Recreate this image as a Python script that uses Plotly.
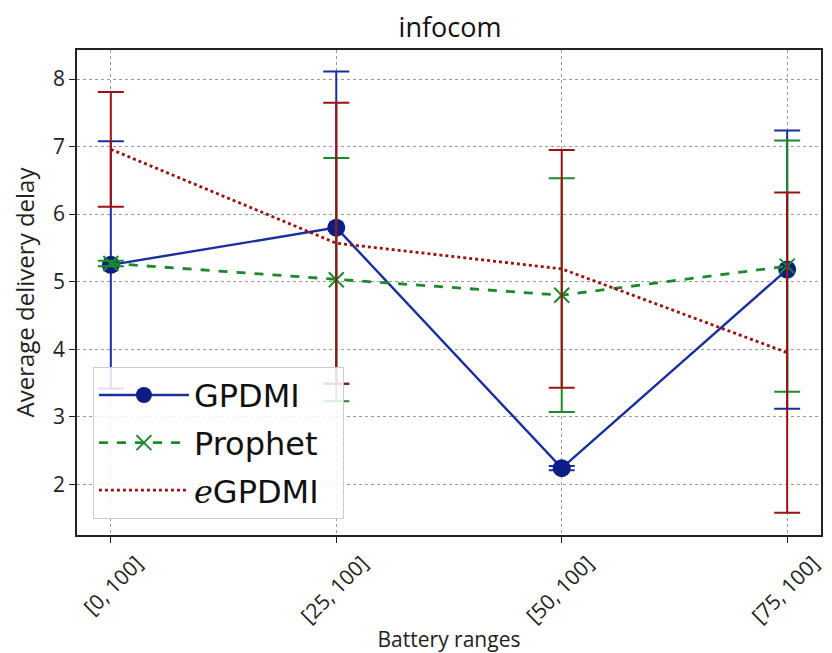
import plotly.graph_objects as go

categories = ["[0, 100]", "[25, 100]", "[50, 100]", "[75, 100]"]

gpdmi_mean = [5.25, 5.80, 2.24, 5.18]
gpdmi_err = [1.83, 2.31, 0.03, 2.06]

prophet_mean = [5.27, 5.03, 4.80, 5.23]
prophet_err = [0.04, 1.80, 1.73, 1.86]

egpdmi_mean = [6.96, 5.57, 5.19, 3.95]
egpdmi_err = [0.85, 2.08, 1.76, 2.37]

xpos = list(range(len(categories)))

BLUE = "#1a2e9c"
BLUE_M = "#0c1d86"
GREEN = "#1b8a2b"
RED = "#9c1212"

W, H = 824, 645  # page body has an 8px margin

fig = go.Figure()

fig.add_trace(go.Scatter(
    x=xpos, y=gpdmi_mean, name="GPDMI", legendgroup="a",
    mode="lines+markers",
    line=dict(color=BLUE, width=2.4),
    marker=dict(symbol="circle", size=18, color=BLUE_M),
    error_y=dict(type="data", array=gpdmi_err, visible=True,
                 color=BLUE, thickness=2, width=13),
))
fig.add_trace(go.Scatter(
    x=xpos, y=prophet_mean, name="Prophet\u00a0\u00a0", legendgroup="b",
    mode="lines+markers",
    line=dict(color=GREEN, width=2.8, dash="dash"),
    marker=dict(symbol="x-thin", size=15, color=GREEN,
                line=dict(color=GREEN, width=2)),
    error_y=dict(type="data", array=prophet_err, visible=True,
                 color=GREEN, thickness=2, width=13),
))
fig.add_trace(go.Scatter(
    x=xpos, y=egpdmi_mean,
    name="<span style='font-family:DejaVu Serif'><i>e</i></span>GPDMI",
    legendgroup="c",
    mode="lines",
    line=dict(color=RED, width=2.8, dash="dot"),
    error_y=dict(type="data", array=egpdmi_err, visible=True,
                 color=RED, thickness=2, width=13),
))

fig.update_layout(
    width=W, height=H,
    margin=dict(l=69, r=7, t=42, b=116),
    paper_bgcolor="white", plot_bgcolor="white",
    font=dict(family="Open Sans, DejaVu Sans, sans-serif", color="#222222", size=21),
    title=dict(text="infocom", x=442 / W, xanchor="center", y=1 - 20 / H, yanchor="middle",
               font=dict(size=27, color="#111111")),
    showlegend=True,
    legend=dict(x=0.0214, y=0.347, xanchor="left", yanchor="top",
                bgcolor="rgba(255,255,255,0.85)", bordercolor="#cccccc", borderwidth=1,
                font=dict(family="DejaVu Sans, sans-serif", size=32, color="#111111"),
                itemwidth=90, tracegroupgap=3),
    xaxis=dict(
        range=[-0.15, 3.15], tickmode="array", tickvals=xpos, ticktext=categories,
        tickangle=-45, ticks="outside", ticklen=6, tickcolor="#222222",
        showline=True, linecolor="#222222", linewidth=1.5, mirror=True,
        showgrid=True, gridcolor="#999999", griddash="dot", gridwidth=1,
        zeroline=False, tickfont=dict(size=21),
        ticklabelshift=26,
        title=dict(text="Battery ranges", standoff=2, font=dict(size=21)),
    ),
    yaxis=dict(
        range=[1.25, 8.43], tickmode="array", tickvals=[2, 3, 4, 5, 6, 7, 8],
        ticks="outside", ticklen=6, tickcolor="#222222",
        showline=True, linecolor="#222222", linewidth=1.5, mirror=True,
        showgrid=True, gridcolor="#999999", griddash="dot", gridwidth=1,
        zeroline=False, tickfont=dict(size=21),
        title=dict(text="Average delivery delay", standoff=12, font=dict(size=24)),
    ),
)

fig.write_html("out.html")
